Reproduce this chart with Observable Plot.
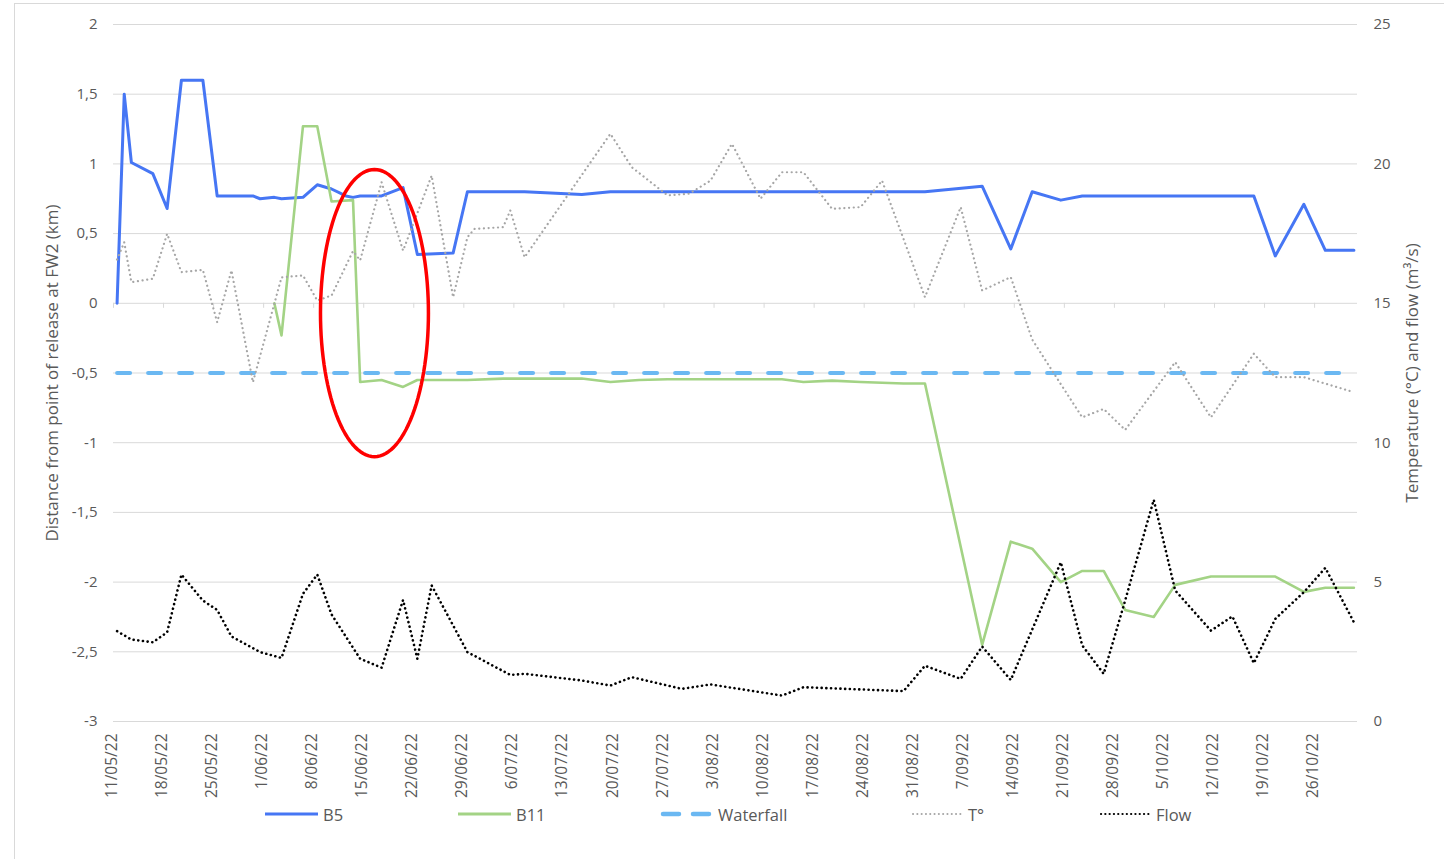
<!DOCTYPE html>
<html>
<head>
<meta charset="utf-8">
<script src="https://cdn.jsdelivr.net/npm/d3@7"></script>
<script src="https://cdn.jsdelivr.net/npm/@observablehq/plot@0.6"></script>
<style>
  html, body { margin: 0; padding: 0; background: #fff; }
  #wrap { position: relative; width: 1444px; height: 859px; overflow: hidden; font-family: "Open Sans", sans-serif; }
  #frame { position: absolute; left: 14px; top: 3px; width: 1500px; height: 900px; border-left: 1px solid #d9d9d9; border-top: 1px solid #d9d9d9; }
  #chart { position: absolute; left: 0; top: 0; }
  .lg { position: absolute; top: 802px; height: 24px; display: flex; align-items: center; font-size: 16.5px; color: #595959; }
  .lg svg { margin-right: 4px; }
</style>
</head>
<body>
<div id="wrap">
  <div id="frame"></div>
  <div id="chart"></div>
  <div id="legend"></div>
</div>
<script>
// ---------- data ----------
const b5Dates = ["2022-05-11","2022-05-12","2022-05-13","2022-05-16","2022-05-18","2022-05-20","2022-05-23","2022-05-25","2022-05-30","2022-05-31","2022-06-02","2022-06-03","2022-06-06","2022-06-08","2022-06-10","2022-06-12","2022-06-13","2022-06-14","2022-06-17","2022-06-20","2022-06-22","2022-06-27","2022-06-29","2022-07-07","2022-07-15","2022-07-19","2022-09-01","2022-09-09","2022-09-13","2022-09-16","2022-09-20","2022-09-23","2022-10-17","2022-10-20","2022-10-24","2022-10-27","2022-10-31"];
const b5Km = [0,1.5,1.01,0.93,0.68,1.6,1.6,0.77,0.77,0.75,0.76,0.75,0.76,0.85,0.82,0.77,0.76,0.77,0.77,0.83,0.35,0.36,0.8,0.8,0.78,0.8,0.8,0.84,0.39,0.8,0.74,0.77,0.77,0.34,0.71,0.38,0.38];

const b11Dates = ["2022-06-02","2022-06-03","2022-06-06","2022-06-08","2022-06-10","2022-06-13","2022-06-14","2022-06-17","2022-06-20","2022-06-22","2022-06-29","2022-07-04","2022-07-15","2022-07-19","2022-07-23","2022-07-27","2022-08-12","2022-08-15","2022-08-19","2022-08-23","2022-08-29","2022-09-01","2022-09-09","2022-09-13","2022-09-16","2022-09-20","2022-09-23","2022-09-26","2022-09-29","2022-10-03","2022-10-06","2022-10-11","2022-10-20","2022-10-24","2022-10-27","2022-10-31"];
const b11Km = [0,-0.23,1.27,1.27,0.73,0.74,-0.565,-0.55,-0.6,-0.55,-0.55,-0.54,-0.54,-0.565,-0.55,-0.545,-0.545,-0.565,-0.555,-0.565,-0.575,-0.575,-2.45,-1.71,-1.76,-2.0,-1.92,-1.92,-2.2,-2.25,-2.02,-1.96,-1.96,-2.07,-2.04,-2.04];

const waterfallDates = ["2022-05-11","2022-10-31"];
const waterfallKm = [-0.5,-0.5];

const tempDates = ["2022-05-11","2022-05-12","2022-05-13","2022-05-16","2022-05-18","2022-05-20","2022-05-23","2022-05-25","2022-05-27","2022-05-30","2022-06-03","2022-06-06","2022-06-08","2022-06-10","2022-06-13","2022-06-14","2022-06-17","2022-06-20","2022-06-24","2022-06-27","2022-06-29","2022-06-30","2022-07-04","2022-07-05","2022-07-07","2022-07-19","2022-07-22","2022-07-27","2022-07-30","2022-08-02","2022-08-05","2022-08-09","2022-08-12","2022-08-15","2022-08-19","2022-08-23","2022-08-26","2022-09-01","2022-09-06","2022-09-09","2022-09-13","2022-09-16","2022-09-20","2022-09-23","2022-09-26","2022-09-29","2022-10-06","2022-10-11","2022-10-17","2022-10-20","2022-10-24","2022-10-31"];
const tempC = [16.57,17.19,15.76,15.88,17.49,16.12,16.2,14.32,16.18,12.17,15.93,16.0,15.1,15.28,16.87,16.54,19.34,16.89,19.58,15.22,17.37,17.67,17.73,18.33,16.65,21.08,19.88,18.87,18.93,19.4,20.72,18.75,19.7,19.7,18.39,18.45,19.4,15.22,18.45,15.46,15.94,13.7,12.1,10.91,11.21,10.46,12.89,10.91,13.19,12.35,12.35,11.81];

const flowDates = ["2022-05-11","2022-05-13","2022-05-16","2022-05-18","2022-05-20","2022-05-23","2022-05-25","2022-05-27","2022-05-31","2022-06-03","2022-06-06","2022-06-08","2022-06-10","2022-06-14","2022-06-17","2022-06-20","2022-06-22","2022-06-24","2022-06-29","2022-07-05","2022-07-07","2022-07-15","2022-07-19","2022-07-22","2022-07-29","2022-08-02","2022-08-12","2022-08-15","2022-08-29","2022-09-01","2022-09-06","2022-09-09","2022-09-13","2022-09-20","2022-09-23","2022-09-26","2022-09-29","2022-10-03","2022-10-06","2022-10-11","2022-10-14","2022-10-17","2022-10-20","2022-10-24","2022-10-27","2022-10-31"];
const flowM3s = [3.24,2.94,2.84,3.2,5.27,4.34,4.0,3.05,2.49,2.28,4.58,5.27,3.84,2.25,1.93,4.36,2.25,4.88,2.49,1.67,1.71,1.47,1.29,1.59,1.17,1.33,0.93,1.23,1.09,2.0,1.53,2.69,1.49,5.71,2.73,1.71,4.34,7.95,4.7,3.26,3.77,2.09,3.68,4.64,5.51,3.56];

const leftTicks = [2,1.5,1,0.5,0,-0.5,-1,-1.5,-2,-2.5,-3];
const rightTicks = [25,20,15,10,5,0];
const xTickDates = ["2022-05-11","2022-05-18","2022-05-25","2022-06-01","2022-06-08","2022-06-15","2022-06-22","2022-06-29","2022-07-06","2022-07-13","2022-07-20","2022-07-27","2022-08-03","2022-08-10","2022-08-17","2022-08-24","2022-08-31","2022-09-07","2022-09-14","2022-09-21","2022-09-28","2022-10-05","2022-10-12","2022-10-19","2022-10-26"];

const leftTitle = "Distance from point of release at FW2 (km)";
const rightTitle = "Temperature (°C) and flow (m³/s)";
const seriesNames = ["B5","B11","Waterfall","T°","Flow"];

// annotation ellipse (data space)
const ellipseCenterDate = "2022-06-16";
const ellipseCenterKm = -0.07;
const ellipseHalfDays = 7.55;
const ellipseHalfKm = 1.03;

// ---------- helpers ----------
const DAY = 864e5;
const toDate = s => new Date(s + "T00:00:00Z");
const rightToLeft = r => (r - 15) / 5; // secondary axis mapping
const rows = (ds, vs, f = v => v) => ds.map((d, i) => ({date: toDate(d), v: f(vs[i])}));

const b5 = rows(b5Dates, b5Km);
const b11 = rows(b11Dates, b11Km);
const waterfall = rows(waterfallDates, waterfallKm);
const temp = rows(tempDates, tempC, rightToLeft);
const flow = rows(flowDates, flowM3s, rightToLeft);

const ec = toDate(ellipseCenterDate).getTime();
const ellipse = d3.range(0, 360, 3).map(a => {
  const t = a * Math.PI / 180;
  return {date: new Date(ec + Math.cos(t) * ellipseHalfDays * DAY), v: ellipseCenterKm + Math.sin(t) * ellipseHalfKm};
});

const xTicks = xTickDates.map(toDate);
const boundaries = xTicks.map(d => new Date(d.getTime() - DAY / 2));
const fmtDate = d3.utcFormat("%-d/%m/%y");
const fmtLeft = d => String(d).replace(".", ",");

const C = {b5: "#4676f4", b11: "#a3d385", wf: "#6bb8f2", t: "#a6a6a6", flow: "#000000", grid: "#d9d9d9", text: "#595959"};

const chart = Plot.plot({
  width: 1444, height: 800,
  marginLeft: 113, marginRight: 87, marginTop: 24, marginBottom: 79,
  x: {type: "utc", domain: [new Date(toDate("2022-05-11") - DAY / 2), new Date(toDate("2022-10-31").getTime() + DAY / 2)], axis: null},
  y: {domain: [-3, 2], axis: null},
  style: {fontFamily: "'Open Sans', sans-serif", fontSize: "14px", color: C.text, background: "transparent", overflow: "visible"},
  marks: [
    Plot.ruleY(leftTicks, {stroke: C.grid, strokeWidth: 1}),
    Plot.ruleX(boundaries, {x: d => d, y1: 0, y2: -0.036, stroke: C.grid, strokeWidth: 1}),
    Plot.text(leftTicks, {y: d => d, frameAnchor: "left", text: fmtLeft, textAnchor: "end", dx: -16, fill: C.text, fontSize: 15}),
    Plot.text(rightTicks, {y: d => rightToLeft(d), frameAnchor: "right", text: d => String(d), textAnchor: "start", dx: 16, fill: C.text, fontSize: 15}),
    Plot.text(xTicks, {x: d => d, frameAnchor: "bottom", text: fmtDate, rotate: -90, textAnchor: "end", dy: 12, fill: C.text, fontSize: 15.5}),
    Plot.text([leftTitle], {frameAnchor: "left", text: d => d, rotate: -90, textAnchor: "middle", dx: -61, fill: C.text, fontSize: 17}),
    Plot.text([rightTitle], {frameAnchor: "right", text: d => d, rotate: -90, textAnchor: "middle", dx: 55, fill: C.text, fontSize: 17}),
    Plot.line(b5, {x: "date", y: "v", stroke: C.b5, strokeWidth: 3}),
    Plot.line(b11, {x: "date", y: "v", stroke: C.b11, strokeWidth: 2.6}),
    Plot.line(waterfall, {x: "date", y: "v", stroke: C.wf, strokeWidth: 4, strokeDasharray: "13,18", strokeLinecap: "round"}),
    Plot.line(temp, {x: "date", y: "v", stroke: C.t, strokeWidth: 2.2, strokeDasharray: "0.1,4.6", strokeLinecap: "round"}),
    Plot.line(flow, {x: "date", y: "v", stroke: C.flow, strokeWidth: 2.6, strokeDasharray: "0.1,4.6", strokeLinecap: "round"}),
    Plot.line(ellipse, {x: "date", y: "v", stroke: "#ff0000", strokeWidth: 3.5, curve: "linear-closed"})
  ]
});
document.getElementById("chart").appendChild(chart);

// ---------- legend ----------
const legendItems = [
  {name: seriesNames[0], left: 265, stroke: C.b5, width: 3, dash: null, cap: "butt"},
  {name: seriesNames[1], left: 458, stroke: C.b11, width: 3, dash: null, cap: "butt"},
  {name: seriesNames[2], left: 660, stroke: C.wf, width: 4.5, dash: "16,14", cap: "round"},
  {name: seriesNames[3], left: 910, stroke: C.t, width: 2, dash: "0.1,4.2", cap: "round"},
  {name: seriesNames[4], left: 1098, stroke: C.flow, width: 2.2, dash: "0.1,4.2", cap: "round"}
];
const lg = document.getElementById("legend");
legendItems.forEach(it => {
  const el = document.createElement("div");
  el.className = "lg";
  el.style.left = it.left + "px";
  el.innerHTML = `<svg width="54" height="10"><line x1="${it.dash ? 3 : 0}" x2="${it.dash ? 51 : 53}" y1="5" y2="5" stroke="${it.stroke}" stroke-width="${it.width}" stroke-linecap="${it.cap}" ${it.dash ? `stroke-dasharray="${it.dash}"` : ""}/></svg><span>${it.name}</span>`;
  lg.appendChild(el);
});
</script>
</body>
</html>
